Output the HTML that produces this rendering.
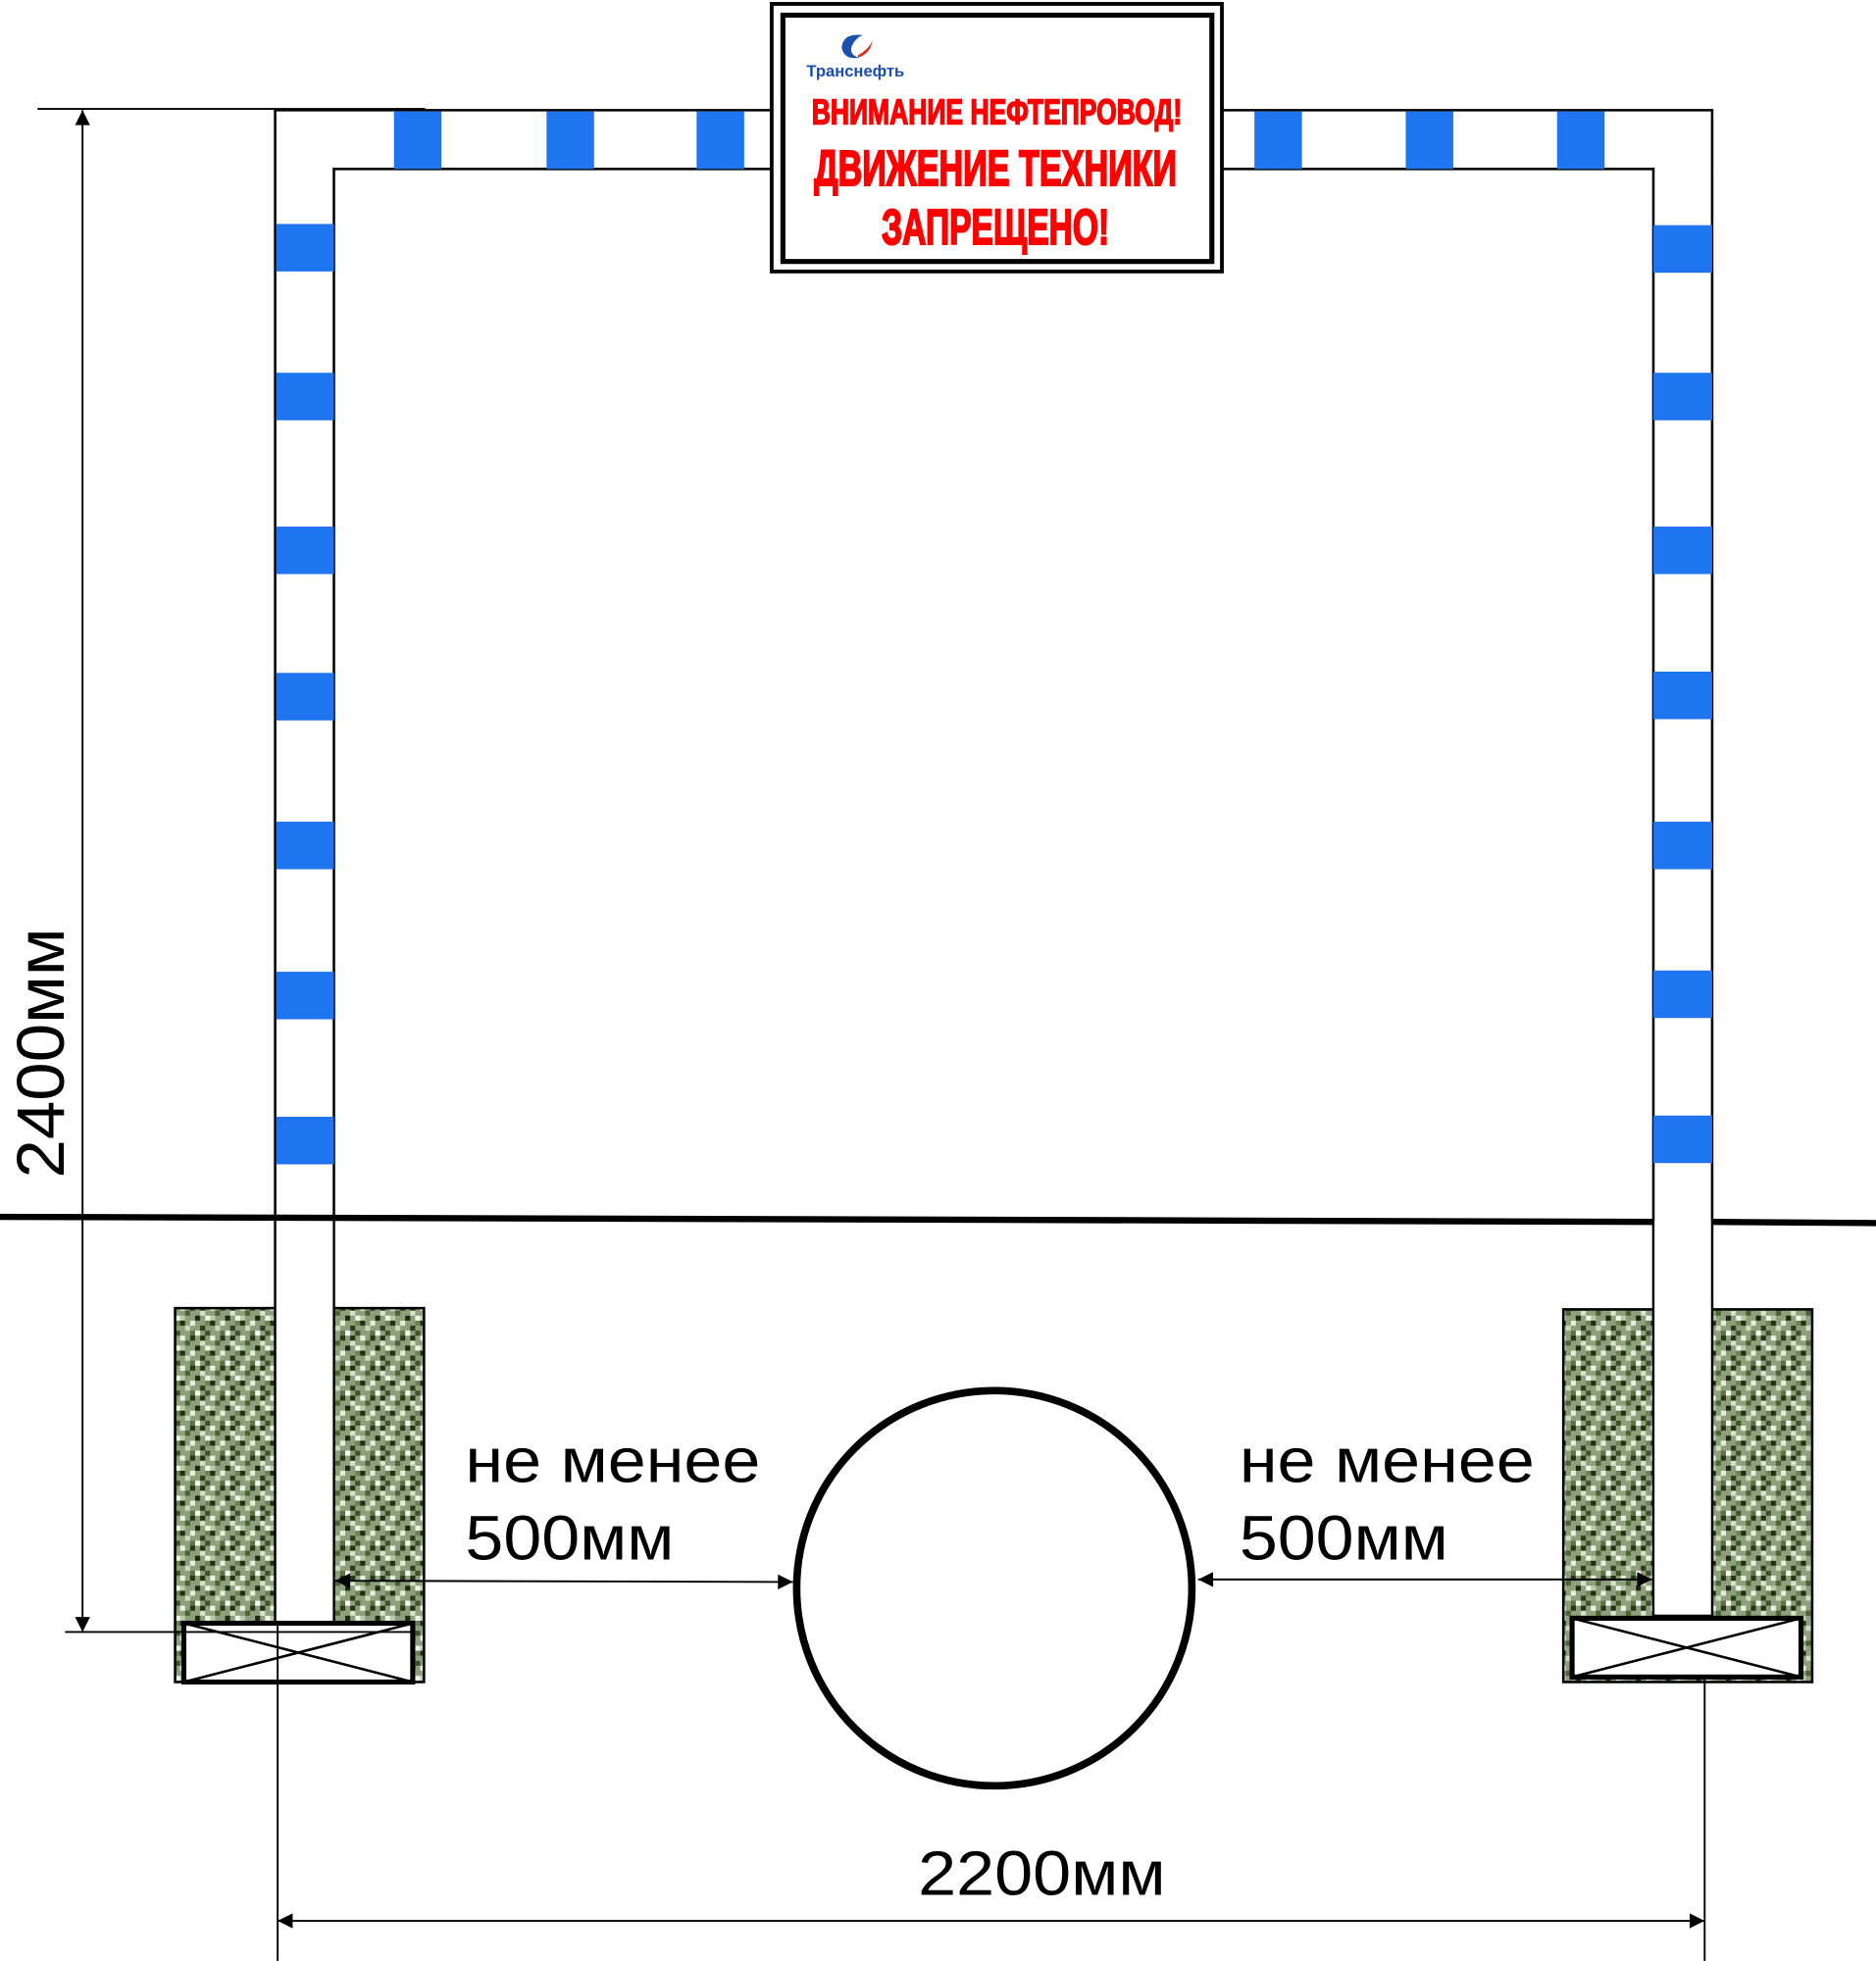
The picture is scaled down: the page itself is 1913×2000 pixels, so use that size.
<!DOCTYPE html>
<html><head><meta charset="utf-8"><style>html,body{margin:0;padding:0;background:#fff}svg{display:block}</style></head>
<body>
<svg width="1913" height="2000" viewBox="0 0 1500 1568" xmlns="http://www.w3.org/2000/svg">
<defs>
<pattern id="g" width="24" height="24" patternUnits="userSpaceOnUse">
<rect width="24" height="24" fill="#8e9f7c"/>
<rect x="0" y="0" width="4" height="4" fill="#1f2e12"/><rect x="8" y="0" width="4" height="4" fill="#e4efdc"/>
<rect x="16" y="4" width="4" height="4" fill="#2a3b1a"/><rect x="4" y="4" width="4" height="4" fill="#c9dcbc"/>
<rect x="12" y="8" width="4" height="4" fill="#f2f8ee"/><rect x="20" y="8" width="4" height="4" fill="#3d5228"/>
<rect x="0" y="12" width="4" height="4" fill="#eaf3e4"/><rect x="8" y="12" width="4" height="4" fill="#263716"/>
<rect x="16" y="16" width="4" height="4" fill="#d6e6cc"/><rect x="4" y="16" width="4" height="4" fill="#4a6332"/>
<rect x="12" y="20" width="4" height="4" fill="#1b2a0f"/><rect x="20" y="20" width="4" height="4" fill="#f0f6ea"/>
<rect x="0" y="20" width="4" height="4" fill="#b8cca6"/><rect x="20" y="0" width="4" height="4" fill="#6b8352"/>
<rect x="8" y="8" width="4" height="4" fill="#5c7444"/><rect x="16" y="12" width="4" height="4" fill="#233312"/>
</pattern>
<marker id="a" viewBox="0 0 10 10" refX="10" refY="5" markerWidth="22" markerHeight="12" markerUnits="userSpaceOnUse" orient="auto-start-reverse"><path d="M0,0L10,5L0,10z" fill="#000"/></marker>
</defs>
<rect x="140" y="1046" width="199" height="299" fill="url(#g)" stroke="#000" stroke-width="2"/>
<rect x="1250" y="1047" width="199" height="298" fill="url(#g)" stroke="#000" stroke-width="2"/>
<path d="M220,1297 V88 H1369 V1292 H1322 V135 H267 V1297 Z" fill="#fff" stroke="#000" stroke-width="2"/>
<g fill="#1f74f0">
<rect x="315" y="89" width="38" height="46"/><rect x="437" y="89" width="38" height="46"/><rect x="557" y="89" width="38" height="46"/>
<rect x="1003" y="89" width="38" height="46"/><rect x="1124" y="89" width="38" height="46"/><rect x="1245" y="89" width="38" height="46"/>
<rect x="221" y="179" width="46" height="38"/><rect x="221" y="298" width="46" height="38"/><rect x="221" y="421" width="46" height="38"/><rect x="221" y="538" width="46" height="38"/><rect x="221" y="657" width="46" height="38"/><rect x="221" y="777" width="46" height="38"/><rect x="221" y="893" width="46" height="38"/>
<rect x="1322" y="180" width="47" height="38"/><rect x="1322" y="298" width="47" height="38"/><rect x="1322" y="421" width="47" height="38"/><rect x="1322" y="537" width="47" height="38"/><rect x="1322" y="657" width="47" height="38"/><rect x="1322" y="776" width="47" height="38"/><rect x="1322" y="892" width="47" height="38"/>
</g>
<rect x="221" y="976" width="45" height="320" fill="#fff"/>
<rect x="1323" y="976" width="45" height="315" fill="#fff"/>
<line x1="0" y1="973" x2="1322" y2="977" stroke="#000" stroke-width="5"/>
<line x1="1369" y1="977" x2="1500" y2="978" stroke="#000" stroke-width="5"/>
<rect x="617" y="3" width="360" height="214" fill="#fff" stroke="#000" stroke-width="3"/>
<rect x="626" y="12" width="343" height="197" fill="none" stroke="#000" stroke-width="4"/>
<path d="M690,28 q-16,-2 -17,10 q2,10 14,8 q-8,-2 -6,-9 q3,-7 9,-9z" fill="#1a4fb0"/>
<path d="M686,44 q8,-4 12,-12 l-2,6 q-3,6 -10,8z" fill="#d32"/>
<text x="684" y="61" font-family="Liberation Sans, sans-serif" font-weight="bold" font-size="13" fill="#1a4fb0" text-anchor="middle">Транснефть</text>
<g font-family="Liberation Sans, sans-serif" font-weight="bold" fill="#f00" stroke="#f00" text-anchor="middle">
<text x="797" y="99" font-size="28" stroke-width="1.2" textLength="296" lengthAdjust="spacingAndGlyphs">ВНИМАНИЕ НЕФТЕПРОВОД!</text>
<text x="796" y="148" font-size="40" stroke-width="1.6" textLength="290" lengthAdjust="spacingAndGlyphs">ДВИЖЕНИЕ ТЕХНИКИ</text>
<text x="796" y="195" font-size="40" stroke-width="1.6" textLength="182" lengthAdjust="spacingAndGlyphs">ЗАПРЕЩЕНО!</text>
</g>
<g fill="#fff" stroke="#000">
<rect x="147" y="1298" width="183" height="47" stroke-width="4"/>
<path d="M147,1298 L330,1345 M330,1298 L147,1345" stroke-width="2"/>
<rect x="1257" y="1294" width="183" height="47" stroke-width="4"/>
<path d="M1257,1294 L1440,1341 M1440,1294 L1257,1341" stroke-width="2"/>
</g>
<circle cx="795" cy="1270" r="158" fill="#fff" stroke="#000" stroke-width="6"/>
<g stroke="#000" stroke-width="1.5" fill="none">
<line x1="30" y1="87" x2="340" y2="87"/>
<line x1="52" y1="1305" x2="330" y2="1305"/>
<line x1="66" y1="88" x2="66" y2="1305" marker-start="url(#a)" marker-end="url(#a)"/>
<line x1="222" y1="1300" x2="222" y2="1568"/>
<line x1="1363" y1="1340" x2="1363" y2="1568"/>
<line x1="222" y1="1536" x2="1363" y2="1536" marker-start="url(#a)" marker-end="url(#a)"/>
<line x1="268" y1="1264" x2="634" y2="1265" marker-start="url(#a)" marker-end="url(#a)"/>
<line x1="958" y1="1263" x2="1321" y2="1263" marker-start="url(#a)" marker-end="url(#a)"/>
</g>
<g font-family="Liberation Sans, sans-serif" font-size="50" fill="#000">
<text x="372" y="1185" textLength="236" lengthAdjust="spacingAndGlyphs">не менее</text>
<text x="372" y="1247" textLength="167" lengthAdjust="spacingAndGlyphs">500мм</text>
<text x="991" y="1185" textLength="236" lengthAdjust="spacingAndGlyphs">не менее</text>
<text x="991" y="1247" textLength="167" lengthAdjust="spacingAndGlyphs">500мм</text>
<text x="734" y="1515" textLength="198" lengthAdjust="spacingAndGlyphs">2200мм</text>
<text transform="translate(51,942) rotate(-90)" font-size="54" textLength="200" lengthAdjust="spacingAndGlyphs">2400мм</text>
</g>
</svg>
</body></html>
